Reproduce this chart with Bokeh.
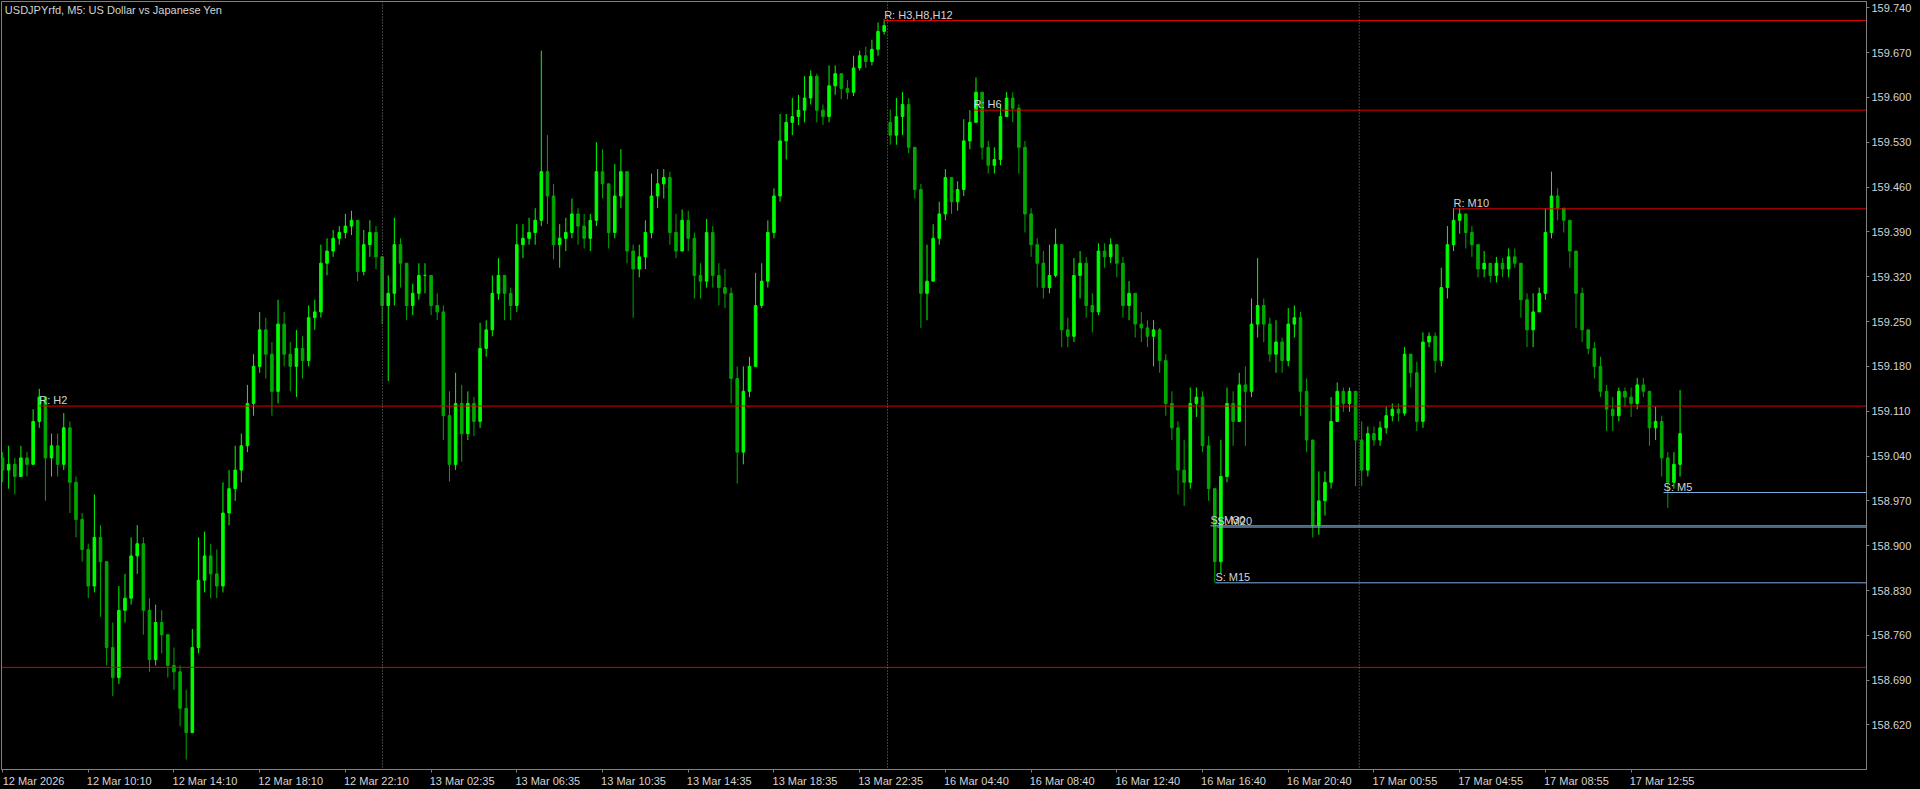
from bokeh.plotting import figure
from bokeh.models import Range1d, FixedTicker, Span, ColumnDataSource, NumeralTickFormatter
from bokeh.embed import file_html
from bokeh.resources import INLINE
from bokeh.core.properties import value

# ---------------- data ----------------
chart_title = "USDJPYrfd, M5:  US Dollar vs Japanese Yen"

close = [
    159.018, 159.027, 159.008, 159.037, 159.027, 159.094, 159.132, 159.037, 159.056, 159.027,
    159.084, 158.999, 158.941, 158.894, 158.837, 158.913, 158.875, 158.741, 158.694, 158.799,
    158.818, 158.884, 158.903, 158.799, 158.722, 158.780, 158.761, 158.713, 158.703, 158.646,
    158.608, 158.741, 158.846, 158.884, 158.856, 158.837, 158.951, 158.989, 159.018, 159.056,
    159.122, 159.180, 159.237, 159.199, 159.141, 159.246, 159.199, 159.180, 159.208, 159.189,
    159.256, 159.265, 159.341, 159.360, 159.380, 159.389, 159.399, 159.408, 159.328, 159.370,
    159.389, 159.351, 159.275, 159.294, 159.370, 159.341, 159.275, 159.294, 159.322, 159.322,
    159.275, 159.265, 159.103, 159.027, 159.122, 159.075, 159.122, 159.094, 159.208, 159.237,
    159.294, 159.322, 159.294, 159.275, 159.370, 159.380, 159.389, 159.408, 159.484, 159.446,
    159.370, 159.380, 159.389, 159.418, 159.399, 159.380, 159.408, 159.484, 159.465, 159.389,
    159.446, 159.484, 159.360, 159.332, 159.351, 159.389, 159.446, 159.465, 159.475, 159.389,
    159.360, 159.408, 159.380, 159.322, 159.313, 159.389, 159.322, 159.303, 159.294, 159.161,
    159.046, 159.141, 159.180, 159.275, 159.313, 159.389, 159.446, 159.532, 159.561, 159.570,
    159.580, 159.599, 159.633, 159.580, 159.570, 159.618, 159.637, 159.614, 159.608, 159.646,
    159.665, 159.656, 159.675, 159.703, 159.712, 159.541, 159.570, 159.589, 159.522, 159.456,
    159.294, 159.313, 159.380, 159.418, 159.475, 159.437, 159.456, 159.532, 159.561, 159.608,
    159.522, 159.494, 159.503, 159.570, 159.599, 159.583, 159.522, 159.418, 159.370, 159.341,
    159.303, 159.322, 159.370, 159.237, 159.227, 159.322, 159.341, 159.275, 159.265, 159.360,
    159.351, 159.370, 159.341, 159.275, 159.294, 159.246, 159.240, 159.227, 159.237, 159.189,
    159.122, 159.084, 159.018, 158.999, 159.122, 159.132, 159.056, 158.989, 158.875, 159.008,
    159.122, 159.094, 159.151, 159.141, 159.246, 159.275, 159.246, 159.199, 159.218, 159.189,
    159.246, 159.256, 159.141, 159.065, 158.932, 158.970, 158.999, 159.094, 159.141, 159.122,
    159.141, 159.065, 159.018, 159.075, 159.065, 159.084, 159.103, 159.113, 159.107, 159.199,
    159.170, 159.094, 159.218, 159.227, 159.189, 159.303, 159.370, 159.408, 159.418, 159.389,
    159.370, 159.332, 159.341, 159.322, 159.341, 159.332, 159.351, 159.341, 159.284, 159.237,
    159.265, 159.294, 159.389, 159.446, 159.427, 159.408, 159.360, 159.294, 159.237, 159.208,
    159.180, 159.141, 159.113, 159.103, 159.141, 159.132, 159.122, 159.151, 159.141, 159.084,
    159.094, 159.037, 158.999, 159.027, 159.075,
]

high = [
    159.046, 159.056, 159.037, 159.056, 159.046, 159.113, 159.145, 159.132, 159.075, 159.075,
    159.107, 159.094, 159.008, 158.951, 158.903, 158.980, 158.932, 158.875, 158.780, 158.837,
    158.856, 158.913, 158.932, 158.913, 158.818, 158.808, 158.799, 158.761, 158.741, 158.713,
    158.675, 158.770, 158.913, 158.922, 158.903, 158.894, 158.999, 159.018, 159.056, 159.075,
    159.151, 159.199, 159.265, 159.256, 159.218, 159.284, 159.265, 159.218, 159.237, 159.227,
    159.275, 159.284, 159.370, 159.380, 159.393, 159.399, 159.418, 159.423, 159.399, 159.393,
    159.408, 159.399, 159.341, 159.322, 159.412, 159.380, 159.332, 159.309, 159.341, 159.341,
    159.322, 159.294, 159.275, 159.141, 159.170, 159.151, 159.141, 159.132, 159.248, 159.252,
    159.322, 159.349, 159.322, 159.303, 159.402, 159.402, 159.412, 159.427, 159.673, 159.541,
    159.465, 159.402, 159.412, 159.442, 159.427, 159.418, 159.418, 159.530, 159.519, 159.465,
    159.496, 159.519, 159.484, 159.370, 159.370, 159.408, 159.481, 159.488, 159.488, 159.484,
    159.418, 159.425, 159.423, 159.389, 159.341, 159.410, 159.399, 159.341, 159.332, 159.303,
    159.180, 159.180, 159.195, 159.326, 159.341, 159.408, 159.458, 159.574, 159.574, 159.599,
    159.604, 159.633, 159.642, 159.637, 159.589, 159.650, 159.650, 159.637, 159.627, 159.665,
    159.673, 159.679, 159.690, 159.717, 159.722, 159.581, 159.599, 159.608, 159.599, 159.522,
    159.465, 159.370, 159.402, 159.437, 159.488, 159.475, 159.469, 159.566, 159.580, 159.631,
    159.599, 159.532, 159.522, 159.589, 159.608, 159.608, 159.589, 159.532, 159.427, 159.380,
    159.360, 159.370, 159.395, 159.370, 159.256, 159.349, 159.360, 159.351, 159.294, 159.372,
    159.372, 159.380, 159.360, 159.351, 159.313, 159.294, 159.265, 159.252, 159.252, 159.240,
    159.199, 159.141, 159.094, 159.065, 159.147, 159.147, 159.141, 159.071, 158.980, 159.065,
    159.147, 159.141, 159.170, 159.180, 159.286, 159.349, 159.286, 159.256, 159.252, 159.225,
    159.271, 159.275, 159.265, 159.161, 159.065, 159.016, 159.016, 159.132, 159.155, 159.147,
    159.147, 159.141, 159.094, 159.086, 159.086, 159.094, 159.117, 159.122, 159.122, 159.210,
    159.199, 159.187, 159.233, 159.233, 159.233, 159.334, 159.399, 159.427, 159.427, 159.418,
    159.399, 159.370, 159.360, 159.341, 159.351, 159.349, 159.364, 159.364, 159.341, 159.294,
    159.294, 159.303, 159.427, 159.484, 159.458, 159.425, 159.408, 159.360, 159.303, 159.233,
    159.218, 159.195, 159.151, 159.132, 159.147, 159.147, 159.147, 159.162, 159.162, 159.141,
    159.117, 159.103, 159.046, 159.046, 159.143,
]

low = [
    158.999, 158.989, 158.980, 159.018, 159.008, 159.027, 159.084, 158.970, 159.008, 159.008,
    159.018, 158.951, 158.913, 158.875, 158.818, 158.827, 158.789, 158.713, 158.665, 158.684,
    158.780, 158.808, 158.856, 158.761, 158.703, 158.713, 158.732, 158.694, 158.675, 158.618,
    158.566, 158.608, 158.732, 158.827, 158.818, 158.818, 158.827, 158.932, 158.970, 158.999,
    159.046, 159.103, 159.170, 159.161, 159.103, 159.122, 159.180, 159.141, 159.132, 159.161,
    159.180, 159.237, 159.256, 159.322, 159.351, 159.370, 159.380, 159.385, 159.313, 159.322,
    159.351, 159.332, 159.246, 159.157, 159.275, 159.303, 159.252, 159.260, 159.284, 159.294,
    159.260, 159.252, 159.065, 159.000, 159.018, 159.031, 159.065, 159.071, 159.084, 159.195,
    159.227, 159.284, 159.252, 159.252, 159.265, 159.349, 159.370, 159.370, 159.399, 159.402,
    159.347, 159.334, 159.360, 159.380, 159.370, 159.364, 159.360, 159.399, 159.442, 159.364,
    159.380, 159.427, 159.341, 159.256, 159.319, 159.332, 159.380, 159.427, 159.442, 159.370,
    159.349, 159.360, 159.360, 159.286, 159.286, 159.303, 159.303, 159.275, 159.271, 159.122,
    158.997, 159.027, 159.132, 159.180, 159.271, 159.303, 159.380, 159.437, 159.503, 159.541,
    159.557, 159.561, 159.589, 159.561, 159.557, 159.561, 159.604, 159.597, 159.597, 159.602,
    159.642, 159.646, 159.650, 159.665, 159.698, 159.526, 159.526, 159.541, 159.513, 159.442,
    159.240, 159.252, 159.341, 159.370, 159.408, 159.418, 159.423, 159.446, 159.519, 159.561,
    159.503, 159.481, 159.481, 159.494, 159.570, 159.561, 159.481, 159.389, 159.351, 159.303,
    159.286, 159.294, 159.319, 159.210, 159.210, 159.218, 159.286, 159.256, 159.233, 159.260,
    159.334, 159.341, 159.319, 159.256, 159.252, 159.225, 159.218, 159.210, 159.180, 159.170,
    159.103, 159.065, 158.980, 158.962, 158.989, 159.101, 159.046, 158.970, 158.842, 158.856,
    158.999, 159.056, 159.132, 159.056, 159.132, 159.225, 159.218, 159.187, 159.170, 159.170,
    159.180, 159.225, 159.103, 159.046, 158.913, 158.917, 158.947, 158.989, 159.094, 159.109,
    159.109, 158.993, 158.993, 159.008, 159.056, 159.056, 159.075, 159.094, 159.094, 159.103,
    159.147, 159.079, 159.084, 159.210, 159.170, 159.180, 159.286, 159.360, 159.387, 159.364,
    159.351, 159.319, 159.319, 159.311, 159.311, 159.319, 159.319, 159.334, 159.256, 159.210,
    159.210, 159.271, 159.284, 159.380, 159.408, 159.389, 159.334, 159.240, 159.218, 159.199,
    159.161, 159.132, 159.079, 159.079, 159.094, 159.117, 159.101, 159.113, 159.132, 159.056,
    159.065, 159.008, 158.959, 158.989, 159.008,
]

# opens equal the previous close, except at the start and after the weekend gap
open_overrides = {0: 159.037, 145: 159.561}

# time axis: one label every 14 candles
time_labels = [
    "12 Mar 2026", "12 Mar 10:10", "12 Mar 14:10", "12 Mar 18:10", "12 Mar 22:10",
    "13 Mar 02:35", "13 Mar 06:35", "13 Mar 10:35", "13 Mar 14:35", "13 Mar 18:35",
    "13 Mar 22:35", "16 Mar 04:40", "16 Mar 08:40", "16 Mar 12:40", "16 Mar 16:40",
    "16 Mar 20:40", "17 Mar 00:55", "17 Mar 04:55", "17 Mar 08:55", "17 Mar 12:55",
]
label_step = 14
day_breaks = [62.05, 144.55, 221.6]

price_ticks = [159.740, 159.670, 159.600, 159.530, 159.460, 159.390, 159.320, 159.250,
               159.180, 159.110, 159.040, 158.970, 158.900, 158.830, 158.760, 158.690, 158.620]

# (label, price, starting candle)
resistance_names = ["R: H3,H8,H12", "R: H6", "R: M10", "R: H2", ""]
resistance_prices = [159.720, 159.580, 159.426, 159.118, 158.710]
resistance_start = [144, 158.6, 237, 6, -1]

support_names = ["S: M5", "S: M30", "S: M20", "S: M15"]
support_prices = [158.983, 158.931, 158.929, 158.842]
support_start = [271.3, 197.3, 198.4, 198.1]

# ---------------- styling / layout ----------------
W, H = 1920, 789
BG = "#000000"
TXT = "#d4d4d4"
AXC = "#808080"
BULL = "#00ff00"
BEAR = "#00a800"
RED = "#e00000"
BLUE = "#79aee0"
FONT = "Liberation Sans"

x_start, x_end = -0.17, 304.45
y_bottom, y_top = 158.5505, 159.7497

n = len(close)
xs = list(range(n))
opens = [open_overrides.get(i, close[i - 1] if i > 0 else close[0]) for i in range(n)]
his = [max(high[i], opens[i], close[i]) for i in range(n)]
los = [min(low[i], opens[i], close[i]) for i in range(n)]
top = [max(opens[i], close[i]) for i in range(n)]
bot = [min(opens[i], close[i]) for i in range(n)]
cols = [BULL if close[i] >= opens[i] else BEAR for i in range(n)]

src = ColumnDataSource(dict(x=xs, hi=his, lo=los, top=top, bot=bot, c=cols))

p = figure(width=W, height=H, output_backend="svg", toolbar_location=None,
           x_range=Range1d(x_start, x_end), y_range=Range1d(y_bottom, y_top),
           y_axis_location="right", min_border_left=1, min_border_top=1,
           min_border_right=54, min_border_bottom=17)
p.background_fill_color = BG
p.border_fill_color = BG
p.outline_line_color = AXC
p.grid.visible = False

# day separators
for d in day_breaks:
    p.add_layout(Span(location=d, dimension="height", line_color=AXC,
                      line_dash="1 2", line_width=1))

# candles
p.segment(x0="x", y0="lo", x1="x", y1="hi", color="c", line_width=1, source=src)
p.vbar(x="x", top="top", bottom="bot", width=0.42, fill_color="c", line_color="c",
       line_width=1, source=src)

# resistance / support levels
p.segment(x0=[max(s, x_start) for s in resistance_start], y0=resistance_prices,
          x1=[x_end] * len(resistance_prices), y1=resistance_prices,
          line_color=RED, line_width=1)
p.segment(x0=support_start, y0=support_prices, x1=[x_end] * len(support_prices),
          y1=support_prices, line_color=BLUE, line_width=1)

lab_x = [s for s, t in zip(resistance_start, resistance_names) if t] + support_start
lab_y = [v for v, t in zip(resistance_prices, resistance_names) if t] + support_prices
lab_t = [t for t in resistance_names if t] + support_names
p.text(x=lab_x, y=lab_y, text=lab_t, text_font=value(FONT), text_font_size="11px",
       text_color=TXT, text_baseline="bottom", text_align="left", y_offset=0)

# chart caption
p.text(x=[x_start + 0.55], y=[y_top], text=[chart_title], text_font=value(FONT),
       text_font_size="11px", text_color=TXT, text_baseline="top", text_align="left",
       y_offset=2)

# x axis: labels start at the tick (left aligned), tick marks as minor ticks
px_per_candle = 6.1225
shift = 31.0 / px_per_candle
tick_pos = [i * label_step for i in range(len(time_labels))]
label_pos = [round(t + shift, 3) for t in tick_pos]
xa = p.xaxis[0]
xa.ticker = FixedTicker(ticks=label_pos, minor_ticks=tick_pos)
xa.major_label_overrides = {lp: lab for lp, lab in zip(label_pos, time_labels)}
xa.major_tick_out = 0
xa.major_tick_in = 0
xa.minor_tick_out = 3
xa.minor_tick_in = 0
xa.minor_tick_line_color = AXC
xa.axis_line_color = AXC
xa.major_label_standoff = 2
xa.major_label_text_color = TXT
xa.major_label_text_font = FONT
xa.major_label_text_font_size = "11px"

ya = p.yaxis[0]
ya.ticker = FixedTicker(ticks=price_ticks, minor_ticks=[])
ya.formatter = NumeralTickFormatter(format="0.000")
ya.major_tick_out = 3
ya.major_tick_in = 0
ya.major_tick_line_color = AXC
ya.minor_tick_out = 0
ya.minor_tick_in = 0
ya.axis_line_color = AXC
ya.major_label_standoff = 2
ya.major_label_text_color = TXT
ya.major_label_text_font = FONT
ya.major_label_text_font_size = "11px"

css = "<style>html,body{margin:0;padding:0;background:#000;overflow:hidden;}</style>"
open("out.html", "w").write(file_html(p, INLINE).replace("<head>", "<head>" + css, 1))
